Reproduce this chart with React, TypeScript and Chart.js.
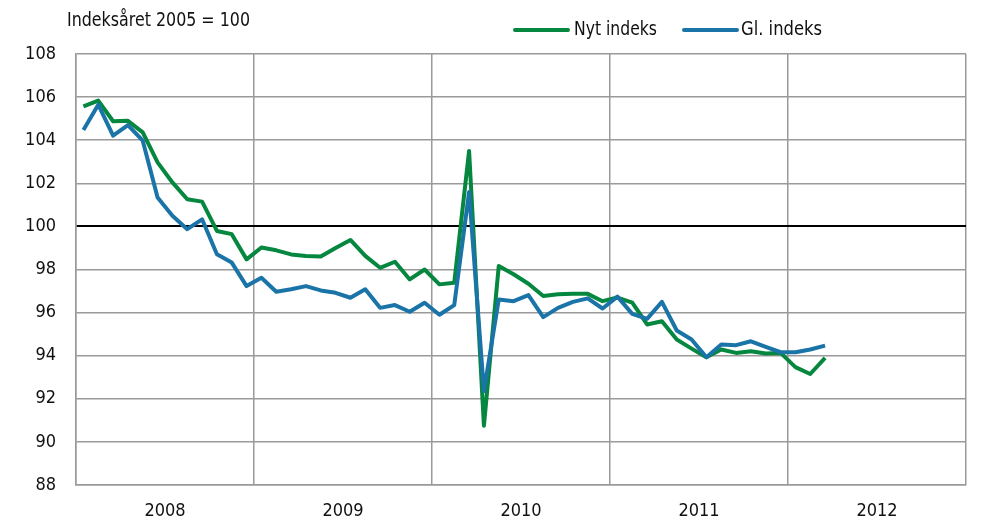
import React, { useEffect, useRef } from "react";
import { Chart, registerables } from "chart.js";

Chart.register(...registerables);

const years = ["2008", "2009", "2010", "2011", "2012"];
const months = years.flatMap((y) =>
  ["01", "02", "03", "04", "05", "06", "07", "08", "09", "10", "11", "12"].map((m) => `${y}-${m}`)
);

const nytIndeks = [
  105.57, 105.84, 104.88, 104.9, 104.36, 102.97, 102.04, 101.26, 101.15, 99.79, 99.64, 98.47,
  99.02, 98.89, 98.7, 98.63, 98.6, 99.0, 99.37, 98.63, 98.08, 98.36, 97.54, 98.0,
  97.31, 97.39, 103.5, 90.75, 98.16, 97.78, 97.34, 96.77, 96.85, 96.87, 96.87, 96.53,
  96.7, 96.46, 95.45, 95.6, 94.75, 94.33, 93.93, 94.29, 94.13, 94.21, 94.1, 94.13,
  93.47, 93.15, 93.9,
];

const glIndeks = [
  104.47, 105.65, 104.21, 104.7, 103.98, 101.34, 100.49, 99.87, 100.33, 98.71, 98.32, 97.23,
  97.62, 96.97, 97.08, 97.23, 97.03, 96.92, 96.69, 97.08, 96.22, 96.35, 96.04, 96.46,
  95.9, 96.35, 101.6, 92.35, 96.61, 96.53, 96.81, 95.79, 96.22, 96.5, 96.66, 96.19,
  96.74, 95.94, 95.71, 96.5, 95.17, 94.75, 93.93, 94.52, 94.49, 94.67, 94.41, 94.16,
  94.16, 94.29, 94.47,
];

const yTicks = [88, 90, 92, 94, 96, 98, 100, 102, 104, 106, 108];

const seriesNames = ["Nyt indeks", "Gl. indeks"];
const titleText = "Indeksåret 2005 = 100";

const GREEN = "#06873f";
const BLUE = "#1a74a7";
const GRID = "#9a9a9a";
const FONT_FAMILY = '"DejaVu Sans Condensed", "Liberation Sans Narrow", "Liberation Sans", sans-serif';

const toPoints = (arr: number[]) => arr.map((v, i) => ({ x: i + 0.5, y: v }));

export default function App() {
  const ref = useRef<HTMLCanvasElement | null>(null);

  useEffect(() => {
    const canvas = ref.current;
    if (!canvas) return;

    const headerPlugin = {
      id: "header",
      afterDraw(chart: any) {
        const ctx = chart.ctx;
        ctx.save();
        ctx.font = `20px ${FONT_FAMILY}`;
        ctx.fillStyle = "#111";
        ctx.textBaseline = "middle";
        ctx.textAlign = "left";
        const fitText = (text: string, x: number, y: number, w: number) => {
          const m = ctx.measureText(text).width;
          ctx.save();
          ctx.translate(x, y);
          ctx.scale(Math.min(1, w / m), 1);
          ctx.fillText(text, 0, 0);
          ctx.restore();
        };
        fitText(titleText, 67, 21, 183);

        const items = [
          { name: seriesNames[0], color: GREEN, x0: 515, x1: 568, tx: 574, w: 83 },
          { name: seriesNames[1], color: BLUE, x0: 684, x1: 737, tx: 741, w: 81 },
        ];
        items.forEach((it) => {
          ctx.beginPath();
          ctx.strokeStyle = it.color;
          ctx.lineWidth = 4;
          ctx.lineCap = "round";
          ctx.moveTo(it.x0, 30);
          ctx.lineTo(it.x1, 30);
          ctx.stroke();
          fitText(it.name, it.tx, 30, it.w);
        });
        ctx.restore();
      },
    };

    const chart = new Chart(canvas, {
      type: "line",
      data: {
        datasets: [
          {
            label: seriesNames[0],
            data: toPoints(nytIndeks),
            borderColor: GREEN,
            backgroundColor: GREEN,
            borderWidth: 4,
            pointRadius: 0,
            tension: 0,
            borderJoinStyle: "round",
            order: 1,
          },
          {
            label: seriesNames[1],
            data: toPoints(glIndeks),
            borderColor: BLUE,
            backgroundColor: BLUE,
            borderWidth: 4,
            pointRadius: 0,
            tension: 0,
            borderJoinStyle: "round",
            order: 0,
          },
        ],
      },
      options: {
        responsive: false,
        animation: false,
        layout: { padding: { top: 54, right: 32, left: 0, bottom: 0 } },
        plugins: {
          legend: { display: false },
          title: { display: false },
          tooltip: { enabled: false },
        },
        scales: {
          x: {
            type: "linear",
            min: 0,
            max: months.length,
            afterBuildTicks: (scale: any) => {
              const t = [];
              for (let v = 0; v <= months.length; v += 6) t.push({ value: v });
              scale.ticks = t;
            },
            afterFit: (scale: any) => {
              scale.height = 38;
            },
            grid: {
              color: (c: any) => (c.tick && c.tick.value % 12 === 0 ? GRID : "rgba(0,0,0,0)"),
              lineWidth: 1.5,
              drawTicks: false,
            },
            border: { color: GRID, width: 1.5 },
            ticks: {
              autoSkip: false,
              maxRotation: 0,
              padding: 16,
              color: "#111",
              font: { family: FONT_FAMILY, size: 18 },
              callback: (v: any) => {
                const n = Number(v);
                return n % 12 === 6 ? years[(n - 6) / 12] : "";
              },
            },
          },
          y: {
            min: yTicks[0],
            max: yTicks[yTicks.length - 1],
            afterBuildTicks: (scale: any) => {
              scale.ticks = yTicks.map((v) => ({ value: v }));
            },
            afterFit: (scale: any) => {
              scale.width = 76;
            },
            grid: {
              color: (c: any) => (c.tick && c.tick.value === 100 ? "#000" : GRID),
              lineWidth: (c: any) => (c.tick && c.tick.value === 100 ? 2 : 1.5),
              drawTicks: false,
            },
            border: { color: GRID, width: 1.5 },
            ticks: {
              padding: 20,
              color: "#111",
              font: { family: FONT_FAMILY, size: 18 },
              callback: (v: any) => String(v),
            },
          },
        },
      },
      plugins: [headerPlugin],
    } as any);

    return () => chart.destroy();
  }, []);

  return (
    <div style={{ position: "absolute", left: 0, top: 0, width: 998, height: 523, background: "#fff" }}>
      <canvas ref={ref} width={998} height={523} style={{ display: "block" }} />
    </div>
  );
}
